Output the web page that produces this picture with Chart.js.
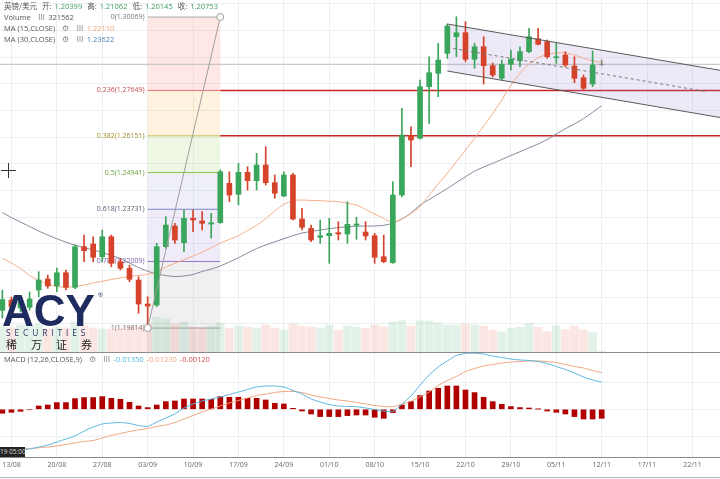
<!DOCTYPE html>
<html><head><meta charset="utf-8">
<script src="https://cdn.jsdelivr.net/npm/chart.js@4.4.1/dist/chart.umd.min.js"></script>
<style>
html,body{margin:0;padding:0;background:#fff;width:720px;height:479px;overflow:hidden;font-family:"Open Sans","Noto Sans CJK SC",sans-serif;}
#wrap{position:relative;width:720px;height:479px;}
canvas{position:absolute;left:0;}
#c1{top:0;}
#c2{top:353px;}
.row{position:absolute;left:4px;font-size:7.5px;line-height:10px;color:#555;white-space:nowrap;}
.row span{margin-right:3px;}
.cjk{font-family:"Noto Sans CJK SC",sans-serif;}
.ic{color:#888;margin:0 4px;}
.g{color:#3a9d5d;}
#sep{position:absolute;left:0;top:352px;width:720px;height:1px;background:#8a8a8a;}
#bot{position:absolute;left:0;top:477px;width:720px;height:1px;background:#b5b5b5;}
#tbox{position:absolute;left:0;top:447px;width:25px;height:10px;background:#222;color:#ddd;font-size:6.5px;line-height:10px;text-align:right;padding-right:1px;box-sizing:border-box;white-space:nowrap;overflow:hidden;}
.cur{position:absolute;background:#333;}
#logoA{position:absolute;left:2px;top:289px;font:bold 44px "Liberation Sans",sans-serif;line-height:44px;color:#1e2b5e;letter-spacing:0px;}
#logoR{position:absolute;left:98px;top:291px;font-size:6px;color:#1e2b5e;}
#logoS{position:absolute;left:6px;top:328px;font-size:8.4px;line-height:10px;letter-spacing:3.9px;color:#1e2b5e;}
#logoC{position:absolute;left:6px;top:338px;font-size:11px;line-height:13px;letter-spacing:14px;color:#222;font-family:"Noto Sans CJK SC",sans-serif;}
</style></head>
<body><div id="wrap">
<canvas id="c1" width="720" height="352"></canvas>
<canvas id="c2" width="720" height="126"></canvas>
<div id="sep"></div><div id="bot"></div>
<div class="row" id="h1" style="top:1px"></div>
<div class="row" id="h2" style="top:12px"></div>
<div class="row" id="h3" style="top:23px"></div>
<div class="row" id="h4" style="top:34px"></div>
<div class="row" id="h5" style="top:354px"></div>
<div id="tbox">19 05:00</div>
<div class="cur" style="left:1px;top:170px;width:15px;height:1px"></div>
<div class="cur" style="left:8px;top:163px;width:1px;height:15px"></div>
<div id="logoA">ACY</div><div id="logoR">®</div>
<div id="logoS">SECURITIES</div>
<div id="logoC">稀万证券</div>
</div>
<script>
// ---------- data ----------
const tickIdx = [1,6,11,16,21,26,31,36,41,46,51,56,61,66,71,76];
const tickLabels = ["13/08","20/08","27/08","03/09","10/09","17/09","24/09","01/10","08/10","15/10","22/10","29/10","05/11","12/11","17/11","22/11"];

const open = [
1.20399,1.20738,1.20474,1.20498,1.21068,1.21431,1.21200,1.21638,1.21157,1.22496,
1.22585,1.22166,1.22825,1.22001,1.21783,1.21398,1.20606,1.20573,1.22496,1.23178,
1.22627,1.23432,1.23343,1.23244,1.23287,1.24586,1.24223,1.24949,1.24672,1.25189,
1.24606,1.24167,1.24860,1.23409,1.23102,1.22806,1.22858,1.22957,1.22914,1.23201,
1.22980,1.22858,1.22166,1.21968,1.24200,1.26145,1.26070,1.27771,1.28213,1.28872,
1.29420,1.29551,1.28674,1.29090,1.28463,1.28048,1.28510,1.28628,1.28925,1.29354,
1.29255,1.28727,1.28816,1.28453,1.28068,1.27860,1.28510];
const close = [
1.20753,1.20517,1.20672,1.20771,1.21398,1.21200,1.21638,1.21157,1.22496,1.22364,
1.22146,1.22825,1.21948,1.21783,1.21421,1.20606,1.20540,1.22496,1.23211,1.22717,
1.23432,1.23376,1.23267,1.23287,1.24968,1.24200,1.24949,1.24672,1.25189,1.24606,
1.24256,1.24860,1.23409,1.23135,1.22717,1.22858,1.22937,1.22914,1.23234,1.23244,
1.22848,1.22146,1.22001,1.24200,1.26178,1.26014,1.27771,1.28233,1.28651,1.29772,
1.29551,1.28674,1.29090,1.28463,1.28157,1.28510,1.28674,1.28925,1.29420,1.29169,
1.28760,1.28760,1.28486,1.28048,1.27718,1.28486,1.28510];
const high = [
1.21062,1.20837,1.20804,1.21002,1.21671,1.21563,1.21793,1.21727,1.22552,1.22881,
1.22825,1.23046,1.22881,1.22113,1.21892,1.21506,1.20847,1.22608,1.23485,1.23267,
1.23706,1.23706,1.23650,1.23597,1.25024,1.24968,1.25245,1.25133,1.25575,1.25793,
1.24860,1.24968,1.24916,1.23762,1.23211,1.23376,1.23432,1.23320,1.23979,1.23465,
1.23320,1.22937,1.22881,1.24639,1.27059,1.26452,1.27992,1.28760,1.29202,1.29838,
1.30079,1.29914,1.29202,1.29420,1.28552,1.28651,1.28981,1.29090,1.29696,1.29696,
1.29311,1.29202,1.28925,1.28760,1.28157,1.28948,1.28651];
const low = [
1.20145,1.20376,1.20343,1.20409,1.20847,1.21124,1.21012,1.21068,1.21101,1.22001,
1.22001,1.22001,1.21836,1.21727,1.21342,1.20300,1.19814,1.20517,1.22443,1.22608,
1.22331,1.22990,1.23046,1.22782,1.23267,1.23979,1.23871,1.24365,1.24365,1.24530,
1.24091,1.24144,1.23376,1.23046,1.22660,1.22608,1.21948,1.22717,1.22608,1.22740,
1.22717,1.21948,1.21968,1.21948,1.24134,1.25133,1.26047,1.26564,1.27441,1.28707,
1.28760,1.28595,1.28378,1.27860,1.28091,1.27992,1.28322,1.28430,1.28892,1.29146,
1.28707,1.28542,1.28430,1.27903,1.27662,1.27771,1.28463];
const ma15 = [
1.22110,1.21958,1.21777,1.21546,1.21381,1.21266,1.21183,1.21157,1.21183,1.21233,
1.21299,1.21355,1.21414,1.21470,1.21513,1.21546,1.21586,1.21678,1.21826,1.21948,
1.22067,1.22189,1.22314,1.22463,1.22611,1.22736,1.22862,1.23030,1.23201,1.23422,
1.23673,1.23894,1.24019,1.24035,1.24022,1.24012,1.23996,1.23983,1.23930,1.23871,
1.23722,1.23574,1.23425,1.23294,1.23409,1.23590,1.23821,1.24200,1.24563,1.24916,
1.25305,1.25684,1.26070,1.26475,1.26881,1.27332,1.27811,1.28223,1.28519,1.28724,
1.28839,1.28882,1.28889,1.28816,1.28707,1.28625,1.28569];
const ma30 = [
1.23622,1.23458,1.23310,1.23162,1.23013,1.22881,1.22759,1.22644,1.22552,1.22463,
1.22387,1.22308,1.22205,1.22107,1.21958,1.21807,1.21688,1.21596,1.21546,1.21510,
1.21530,1.21579,1.21678,1.21760,1.21859,1.21991,1.22133,1.22288,1.22436,1.22552,
1.22657,1.22759,1.22862,1.22947,1.22997,1.23046,1.23089,1.23129,1.23152,1.23172,
1.23178,1.23178,1.23201,1.23270,1.23409,1.23607,1.23871,1.24052,1.24233,1.24415,
1.24612,1.24800,1.24985,1.25123,1.25245,1.25371,1.25503,1.25628,1.25756,1.25882,
1.26030,1.26211,1.26386,1.26541,1.26722,1.26927,1.27145];
const volume = [
321562,309000,347000,334000,360000,296000,321000,309000,386000,334000,
309000,296000,292000,309000,325000,325000,360000,450000,424000,360000,
386000,321000,309000,334000,373000,305000,334000,321000,309000,347000,
309000,283000,360000,334000,321000,309000,347000,283000,334000,321000,
305000,347000,325000,390000,403000,334000,403000,399000,377000,347000,
347000,360000,347000,334000,283000,261000,305000,318000,369000,318000,
261000,334000,289000,334000,283000,248000,12000];
const dif = [
-0.01350,-0.01294,-0.01233,-0.01203,-0.01142,-0.01082,-0.00991,-0.00900,-0.00809,-0.00658,
-0.00536,-0.00445,-0.00415,-0.00400,-0.00430,-0.00491,-0.00521,-0.00385,-0.00264,-0.00142,
0.00039,0.00161,0.00252,0.00312,0.00373,0.00448,0.00524,0.00600,0.00676,0.00706,
0.00706,0.00676,0.00570,0.00464,0.00312,0.00221,0.00145,0.00100,0.00085,0.00079,
0.00039,-0.00006,-0.00052,-0.00067,0.00161,0.00403,0.00736,0.01039,0.01282,0.01464,
0.01630,0.01695,0.01700,0.01676,0.01615,0.01570,0.01524,0.01494,0.01479,0.01448,
0.01388,0.01297,0.01206,0.01100,0.00979,0.00888,0.00827];
const dea = [
-0.01230,-0.01218,-0.01203,-0.01188,-0.01167,-0.01142,-0.01112,-0.01067,-0.01021,-0.00976,
-0.00945,-0.00870,-0.00794,-0.00733,-0.00673,-0.00627,-0.00582,-0.00521,-0.00476,-0.00400,
-0.00294,-0.00188,-0.00082,0.00009,0.00100,0.00191,0.00267,0.00342,0.00418,0.00464,
0.00509,0.00539,0.00539,0.00509,0.00433,0.00373,0.00327,0.00282,0.00252,0.00206,
0.00161,0.00115,0.00085,0.00079,0.00145,0.00252,0.00373,0.00524,0.00721,0.00873,
0.00994,0.01145,0.01236,0.01312,0.01358,0.01403,0.01433,0.01448,0.01464,0.01464,
0.01448,0.01418,0.01358,0.01297,0.01252,0.01176,0.01109];
const hist = [
-0.00120,-0.00091,-0.00061,-0.00015,0.00100,0.00130,0.00203,0.00203,0.00324,0.00355,
0.00355,0.00385,0.00333,0.00303,0.00212,0.00100,0.00052,0.00130,0.00233,0.00252,
0.00312,0.00312,0.00312,0.00303,0.00385,0.00364,0.00364,0.00333,0.00333,0.00282,
0.00182,0.00161,0.00030,-0.00052,-0.00142,-0.00221,-0.00221,-0.00221,-0.00191,-0.00173,
-0.00173,-0.00242,-0.00273,-0.00100,0.00130,0.00233,0.00415,0.00555,0.00636,0.00706,
0.00706,0.00585,0.00506,0.00364,0.00233,0.00152,0.00082,0.00052,0.00039,0.00006,
-0.00052,-0.00091,-0.00142,-0.00221,-0.00294,-0.00294,-0.00273];

// drawing-tool anchors (in data units)
const fibRatios = [0, 0.236, 0.382, 0.5, 0.618, 0.786, 1];
const fibPrices = [1.30069, 1.27649, 1.26151, 1.24941, 1.23731, 1.22009, 1.19814];
const fibFrom = 16, fibTo = 24;
const supportLevels = [1, 2];
const chStart = 49, chRef = 68, chTop = [1.29838, 1.28872], chBot = [1.28289, 1.27319], chMidEnd = 77.4;
const gridPrices = [1.3051,1.2963,1.2875,1.2787,1.2699,1.2611,1.2523,1.2435,1.2347,1.2259,1.2171,1.2083,1.1995];
const macdGrid = [-0.0081, 0, 0.0081];

// ---------- styles ----------
const X_MIN = -0.26, X_MAX = 79.03;
const GRID = '#edf0f3';
const upC = '#3aa65c', dnC = '#d5432b', flatC = '#8a8a8a';
const fibFill = ['rgba(244,67,54,0.13)','rgba(255,152,0,0.13)','rgba(139,195,74,0.15)','rgba(63,81,181,0.09)','rgba(103,58,183,0.10)','rgba(120,120,120,0.11)','rgba(120,120,120,0.11)'];
const fibLine = ['#aaaaaa','#e57373','#cdbb55','#8bc34a','#7986cb','#9575cd','#aaaaaa'];
const fibText = ['#777','#c85050','#a0902a','#6a9f3c','#555a70','#8060b0','#777'];

// ---------- header texts ----------
const f5 = v => v.toFixed(5);
document.getElementById('h1').innerHTML =
 `<span class="cjk">英镑/美元</span> <span class="cjk">开:</span><span class="g">${f5(open[0])}</span> <span class="cjk">高:</span><span class="g">${f5(high[0])}</span> <span class="cjk">低:</span><span class="g">${f5(low[0])}</span> <span class="cjk">收:</span><span class="g">${f5(close[0])}</span>`;
document.getElementById('h2').innerHTML = `<span>Volume</span><span class="ic">Ⅲ</span><span>${volume[0]}</span>`;
document.getElementById('h3').innerHTML = `<span>MA (15,CLOSE)</span><span class="ic">⚙</span><span class="ic">Ⅲ</span><span style="color:#f0a070">${f5(ma15[0])}</span>`;
document.getElementById('h4').innerHTML = `<span>MA (30,CLOSE)</span><span class="ic">⚙</span><span class="ic">Ⅲ</span><span style="color:#4a7fb5">${f5(ma30[0])}</span>`;
document.getElementById('h5').innerHTML = `<span>MACD (12,26,CLOSE,9)</span><span class="ic">⚙</span><span class="ic">Ⅲ</span><span style="color:#4fb3e0">${f5(dif[0])}</span><span style="color:#f0a47e">${f5(dea[0])}</span><span style="color:#d04a4a">${f5(hist[0])}</span>`;

// ---------- helpers ----------
const idx = open.map((_, i) => i);
const candleColor = idx.map(i => close[i] > open[i] ? upC : (close[i] < open[i] ? dnC : flatC));
const volColor = idx.map(i => close[i] >= open[i] ? 'rgba(58,166,92,0.14)' : 'rgba(230,80,60,0.14)');
function seg(ctx, x1, y1, x2, y2){ ctx.beginPath(); ctx.moveTo(x1, y1); ctx.lineTo(x2, y2); ctx.stroke(); }

const overlay = {
  id: 'overlay',
  beforeDatasetsDraw(chart){
    const {ctx, chartArea: a, scales: {x, y}} = chart;
    ctx.save();
    const xl = x.getPixelForValue(fibFrom), xr = x.getPixelForValue(fibTo);
    const fy = fibPrices.map(p => y.getPixelForValue(p));
    for (let k = 0; k < fy.length - 1; k++) { ctx.fillStyle = fibFill[k]; ctx.fillRect(xl, fy[k], xr - xl, fy[k+1] - fy[k]); }
    ctx.fillStyle = fibFill[fibFill.length - 1];
    ctx.fillRect(xl, fy[fy.length-1], xr - xl, a.bottom - fy[fy.length-1]);
    ctx.lineWidth = 1;
    fy.forEach((yy, k) => { ctx.strokeStyle = fibLine[k]; seg(ctx, xl, yy, xr, yy); });
    ctx.font = '7px "Open Sans"'; ctx.textAlign = 'right'; ctx.textBaseline = 'middle';
    fy.forEach((yy, k) => { ctx.fillStyle = fibText[k]; ctx.fillText(`${fibRatios[k]}(${f5(fibPrices[k])})`, xl - 3, yy); });
    ctx.strokeStyle = '#c62828'; ctx.lineWidth = 1.5;
    supportLevels.forEach(k => seg(ctx, xr, fy[k], a.right, fy[k]));
    const cp = y.getPixelForValue(close[close.length - 1]);
    ctx.strokeStyle = '#bdbdbd'; ctx.lineWidth = 1; seg(ctx, a.left, cp, a.right, cp);
    const sT = (chTop[1] - chTop[0]) / (chRef - chStart), sB = (chBot[1] - chBot[0]) / (chRef - chStart);
    const xe = x.max;
    ctx.fillStyle = 'rgba(149,117,205,0.16)';
    ctx.beginPath();
    ctx.moveTo(x.getPixelForValue(chStart), y.getPixelForValue(chTop[0]));
    ctx.lineTo(x.getPixelForValue(xe), y.getPixelForValue(chTop[0] + sT * (xe - chStart)));
    ctx.lineTo(x.getPixelForValue(xe), y.getPixelForValue(chBot[0] + sB * (xe - chStart)));
    ctx.lineTo(x.getPixelForValue(chStart), y.getPixelForValue(chBot[0]));
    ctx.closePath(); ctx.fill();
    ctx.restore();
  },
  afterDatasetsDraw(chart){
    const {ctx, scales: {x, y}} = chart;
    ctx.save();
    const sT = (chTop[1] - chTop[0]) / (chRef - chStart), sB = (chBot[1] - chBot[0]) / (chRef - chStart);
    const xe = x.max;
    ctx.strokeStyle = '#5a5a5a'; ctx.lineWidth = 1;
    seg(ctx, x.getPixelForValue(chStart), y.getPixelForValue(chTop[0]), x.getPixelForValue(xe), y.getPixelForValue(chTop[0] + sT * (xe - chStart)));
    seg(ctx, x.getPixelForValue(chStart), y.getPixelForValue(chBot[0]), x.getPixelForValue(xe), y.getPixelForValue(chBot[0] + sB * (xe - chStart)));
    const m0 = (chTop[0] + chBot[0]) / 2, sM = (sT + sB) / 2;
    ctx.setLineDash([3, 3]); ctx.strokeStyle = '#777';
    seg(ctx, x.getPixelForValue(chStart), y.getPixelForValue(m0), x.getPixelForValue(chMidEnd), y.getPixelForValue(m0 + sM * (chMidEnd - chStart)));
    ctx.setLineDash([]);
    const p1 = [x.getPixelForValue(fibFrom), y.getPixelForValue(fibPrices[fibPrices.length-1])];
    const p2 = [x.getPixelForValue(fibTo), y.getPixelForValue(fibPrices[0])];
    ctx.strokeStyle = '#9e9e9e'; seg(ctx, p1[0], p1[1], p2[0], p2[1]);
    [p1, p2].forEach(p => { ctx.beginPath(); ctx.arc(p[0], p[1], 3.5, 0, Math.PI * 2); ctx.fillStyle = '#fff'; ctx.fill(); ctx.stroke(); });
    ctx.restore();
  }
};

const hideTicksY = (vals) => ({
  type: 'linear', position: 'right', ticks: {display: false},
  grid: {color: GRID, drawTicks: false}, border: {display: false},
  afterBuildTicks: s => { s.ticks = vals.map(v => ({value: v})); },
  afterFit: s => { s.width = 0; }
});

new Chart(document.getElementById('c1'), {
  type: 'bar',
  data: { datasets: [
    { type: 'bar', data: idx.map(i => ({x: i, y: open[i] === close[i] ? [open[i] - 0.00003, open[i] + 0.00003] : [open[i], close[i]]})),
      backgroundColor: candleColor, barThickness: 5, grouped: false, order: 1, yAxisID: 'y' },
    { type: 'bar', data: idx.map(i => ({x: i, y: [low[i], high[i]]})),
      backgroundColor: candleColor, barThickness: 1, grouped: false, order: 2, yAxisID: 'y' },
    { type: 'line', data: idx.map(i => ({x: i, y: ma15[i]})), borderColor: '#f4ab88', borderWidth: 1, pointRadius: 0, tension: 0.2, order: 4, yAxisID: 'y' },
    { type: 'line', data: idx.map(i => ({x: i, y: ma30[i]})), borderColor: '#7f8898', borderWidth: 1, pointRadius: 0, tension: 0.2, order: 5, yAxisID: 'y' },
    { type: 'bar', data: idx.map(i => ({x: i, y: volume[i]})), backgroundColor: volColor, barThickness: 8, grouped: false, order: 10, yAxisID: 'yv' }
  ]},
  options: {
    responsive: false, animation: false, events: [],
    layout: {padding: 0},
    plugins: {legend: {display: false}, tooltip: {enabled: false}},
    scales: {
      x: { type: 'linear', offset: false, min: X_MIN, max: X_MAX, ticks: {display: false}, grid: {color: GRID, drawTicks: false, offset: false}, border: {display: false},
           afterBuildTicks: s => { s.ticks = tickIdx.map(v => ({value: v})); },
           afterFit: s => { s.height = 0; s.paddingLeft = 0; s.paddingRight = 0; } },
      y: Object.assign(hideTicksY(gridPrices), {min: 1.19024, max: 1.30630}),
      yv: { type: 'linear', display: false, min: 0, max: 4527000 }
    }
  },
  plugins: [overlay]
});

new Chart(document.getElementById('c2'), {
  type: 'bar',
  data: { datasets: [
    { type: 'line', data: idx.map(i => ({x: i, y: dif[i]})), borderColor: '#5bb5de', borderWidth: 1, pointRadius: 0, tension: 0.2, order: 1 },
    { type: 'line', data: idx.map(i => ({x: i, y: dea[i]})), borderColor: '#f0a47e', borderWidth: 1, pointRadius: 0, tension: 0.2, order: 2 },
    { type: 'bar', data: idx.map(i => ({x: i, y: hist[i]})), backgroundColor: '#b00000', barThickness: 5, grouped: false, order: 3 }
  ]},
  options: {
    responsive: false, animation: false, events: [],
    layout: {padding: 0},
    plugins: {legend: {display: false}, tooltip: {enabled: false}},
    scales: {
      x: { type: 'linear', offset: false, min: X_MIN, max: X_MAX,
           ticks: {autoSkip: false, maxRotation: 0, minRotation: 0, padding: 4, color: '#666', font: {size: 7, family: 'Open Sans'},
                   callback: v => { const k = tickIdx.indexOf(v); return k >= 0 ? tickLabels[k] : ''; }},
           grid: {color: GRID, drawTicks: false, offset: false}, border: {display: true, color: '#8a8a8a', width: 1},
           afterBuildTicks: s => { s.ticks = tickIdx.map(v => ({value: v})); },
           afterFit: s => { s.height = 22; s.paddingLeft = 0; s.paddingRight = 0; } },
      y: Object.assign(hideTicksY(macdGrid), {min: -0.014455, max: 0.017061})
    }
  }
});
</script>
</body></html>
